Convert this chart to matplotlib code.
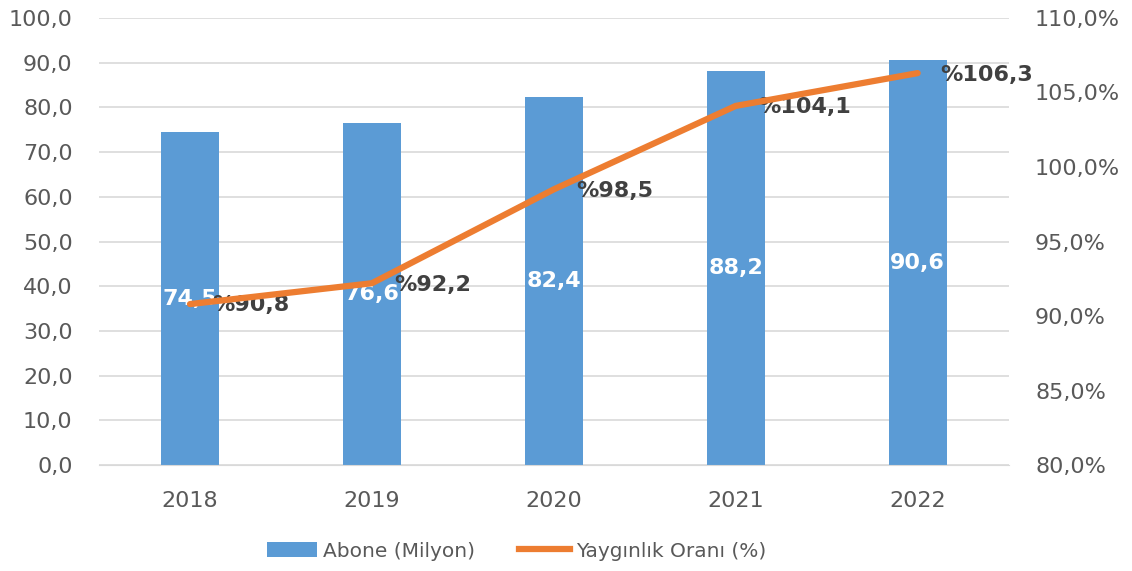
import matplotlib
matplotlib.use("Agg")
from matplotlib import pyplot as plt
from matplotlib.patches import Patch
from matplotlib.lines import Line2D

years = ["2018", "2019", "2020", "2021", "2022"]
abone = [74.5, 76.6, 82.4, 88.2, 90.6]          # Abone (Milyon)
yayginlik = [90.8, 92.2, 98.5, 104.1, 106.3]    # Yaygınlık Oranı (%)

left_ticks = [0, 10, 20, 30, 40, 50, 60, 70, 80, 90, 100]
right_ticks = [80, 85, 90, 95, 100, 105, 110]

BLUE = "#5B9BD5"
ORANGE = "#ED7D31"
GREY = "#595959"
DARK = "#404040"


def tr(v, dec=1):
    """Turkish decimal comma."""
    return f"{v:.{dec}f}".replace(".", ",")


fig = plt.figure(figsize=(11.32, 5.71), dpi=100)
ax = fig.add_axes([0.0875, 0.1856, 0.8035, 0.7829])
ax2 = ax.twinx()

x = list(range(len(years)))
bars = ax.bar(x, abone, width=0.32, color=BLUE, zorder=2)
ax.set_xlim(-0.5, len(years) - 0.5)
ax.set_ylim(0, 100)
ax.set_yticks(left_ticks)
ax.set_yticklabels([tr(v) for v in left_ticks])
ax.set_xticks(x)
ax.set_xticklabels(years)
ax.grid(axis="y", color="#D9D9D9", linewidth=1.2, zorder=0)
ax.set_axisbelow(True)

for b, v in zip(bars, abone):
    ax.text(b.get_x() + b.get_width() / 2, v / 2, tr(v), ha="center", va="center",
            color="white", fontsize=16, fontweight="bold", zorder=5)

ax2.plot(x, yayginlik, color=ORANGE, linewidth=4.5, solid_capstyle="round", zorder=4)
ax2.set_ylim(80, 110)
ax2.set_yticks(right_ticks)
ax2.set_yticklabels([tr(v) + "%" for v in right_ticks])
for xi, v in zip(x, yayginlik):
    ax2.annotate("%" + tr(v), (xi, v), xytext=(16, -1), textcoords="offset points",
                 ha="left", va="center", color=DARK, fontsize=16, fontweight="bold")

for a in (ax, ax2):
    for s in a.spines.values():
        s.set_visible(False)
    a.tick_params(length=0, labelsize=16, labelcolor=GREY)
ax.spines["bottom"].set_visible(True)
ax.spines["bottom"].set_color("#D9D9D9")
ax.tick_params(axis="y", pad=19)
ax.tick_params(axis="x", pad=19)
ax2.tick_params(axis="y", pad=19)

handles = [Patch(facecolor=BLUE), Line2D([0], [0], color=ORANGE, linewidth=4.5)]
fig.legend(handles, ["Abone (Milyon)", "Yaygınlık Oranı (%)"], loc="center",
           bbox_to_anchor=(0.456, 0.035), ncol=2, frameon=False, fontsize=14.5,
           labelcolor=GREY, handlelength=2.5, handletextpad=0.3, columnspacing=2.2)

fig.savefig("out.png", dpi=100)
